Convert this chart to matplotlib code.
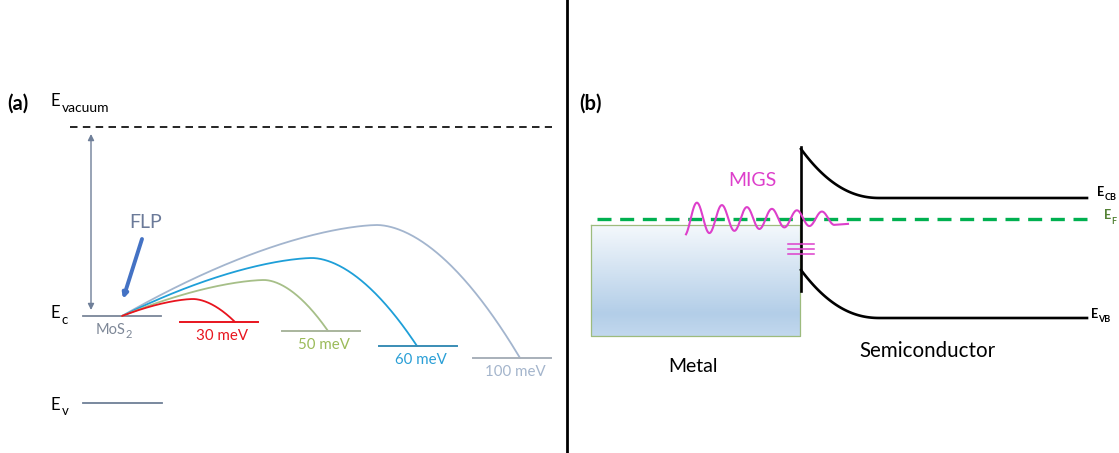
#!/usr/bin/env python3
"""Band diagram: (a) Fermi-level pinning barriers on MoS2, (b) MIGS at a metal/semiconductor contact."""

import matplotlib.pyplot as plt
import numpy as np
from matplotlib.colors import LinearSegmentedColormap

plt.rcParams['font.family'] = ['Lato', 'DejaVu Sans']

# Canvas is laid out in pixel units (x right, y down)
W, H = 1119, 453

# ---- panel (a): barrier heights for different metals ----
BARRIER_LABELS = ['30 meV', '50 meV', '60 meV', '100 meV']
BARRIER_COLORS = ['#E8141E', '#A6BF88', '#1E9FD8', '#A3B5CE']
LABEL_COLORS = ['#E8141E', '#9BBB59', '#2A9FD6', '#A4B5CC']
LEVEL_COLORS = ['#E8141E', '#A9B59D', '#3A8DB5', '#A8B0BA']
LEVEL_X = [180, 282, 379, 473]     # left end of each metal level
LEVEL_Y = [322, 331, 346, 358]     # level height
PEAK_X = [193, 264, 312, 377]      # top of each arc
PEAK_Y = [299, 280, 258, 225]
END_X = [235, 328, 417, 520]       # where each arc meets its level
LEVEL_LEN = 78

MOS2_LEVEL = (83, 161, 316)        # x0, x1, y
EV_LEVEL = (83, 162, 403)
VACUUM_Y = 127
ARC_START = (122, 316)

# ---- panel (b): metal / semiconductor ----
METAL_BOX = (591, 800, 225, 336)   # x0, x1, ytop, ybottom
INTERFACE_X = 801
CB_Y, VB_Y = 198, 318
BAND_TOP_CB, BAND_TOP_VB = 149, 270
BAND_FLAT_X = 880
BAND_END_X = 1087
EF_Y = 219
MIGS_X = (686, 834, 848)           # wave start, wave end, tail end
MIGS_CENTER = 218.5
MIGS_PERIOD = 25
MIGS_AMP = (17, 152)               # start amplitude, decay length
STATE_Y = [244, 249, 254]


def arc(x0, y0, xp, yp, xe, ye, n=120):
    """Schematic arc rising from (x0,y0) to a top at (xp,yp) and dropping to (xe,ye)."""
    xl = np.linspace(x0, xp, n)
    yl = yp + (y0 - yp) * ((xp - xl) / (xp - x0)) ** 1.6
    xr = np.linspace(xp, xe, n)
    yr = yp + (ye - yp) * ((xr - xp) / (xe - xp)) ** 1.8
    return np.r_[xl, xr], np.r_[yl, yr]


def band(y_top, y_flat):
    x = np.linspace(INTERFACE_X, BAND_FLAT_X, 80)
    y = y_flat - (y_flat - y_top) * ((BAND_FLAT_X - x) / (BAND_FLAT_X - INTERFACE_X)) ** 2.2
    return np.r_[x, BAND_END_X], np.r_[y, y_flat]


def create_figure():
    fig = plt.figure(figsize=(W / 100, H / 100), dpi=100, facecolor='white')
    ax = fig.add_axes([0, 0, 1, 1])
    ax.axis('off')

    # === PANEL (a) ===
    ax.text(7, 104, '(a)', fontsize=14.5, fontweight='bold', ha='left', va='center')
    ax.text(51, 101, 'E', fontsize=12, ha='left', va='center')
    ax.text(62, 108, 'vacuum', fontsize=10, ha='left', va='center')
    ax.plot([70, 552], [VACUUM_Y, VACUUM_Y], color='black', lw=1.2,
            dashes=(4.5, 3.2))

    # E_c / E_v
    ax.text(51, 313, 'E', fontsize=12, ha='left', va='center')
    ax.text(62, 320, 'c', fontsize=9.5, ha='left', va='center')
    ax.plot(MOS2_LEVEL[:2], [MOS2_LEVEL[2]] * 2, color='#7A8699', lw=1.3)
    ax.text(96, 330, 'MoS', fontsize=10.5, color='#7D8797', ha='left', va='center')
    ax.text(126, 334, '2', fontsize=8, color='#7D8797', ha='left', va='center')
    ax.text(51, 405, 'E', fontsize=12, ha='left', va='center')
    ax.text(62, 411, 'v', fontsize=9.5, ha='left', va='center')
    ax.plot(EV_LEVEL[:2], [EV_LEVEL[2]] * 2, color='#6E7F96', lw=1.3)

    # work-function arrow
    ax.annotate('', xy=(91, 310), xytext=(91, 134),
                arrowprops=dict(arrowstyle='<|-|>', color='#6F7F99', lw=1.0,
                                mutation_scale=9, shrinkA=0, shrinkB=0))

    # FLP
    ax.text(129, 223, 'FLP', fontsize=14, color='#6B7A99', ha='left', va='center')
    ax.annotate('', xy=(123, 299), xytext=(142, 239),
                arrowprops=dict(arrowstyle='-|>', color='#4472C4', lw=2.8,
                                mutation_scale=7, shrinkA=0, shrinkB=0))

    # barrier arcs, drawn largest first so the red one ends up on top
    for i in reversed(range(len(BARRIER_LABELS))):
        x, y = arc(ARC_START[0], ARC_START[1], PEAK_X[i], PEAK_Y[i], END_X[i], LEVEL_Y[i])
        ax.plot(x, y, color=BARRIER_COLORS[i], lw=1.3, solid_capstyle='round')
        ax.plot([LEVEL_X[i], LEVEL_X[i] + LEVEL_LEN], [LEVEL_Y[i]] * 2,
                color=LEVEL_COLORS[i], lw=1.4)
        ax.text(LEVEL_X[i] + LEVEL_LEN / 2 + 3, LEVEL_Y[i] + 14, BARRIER_LABELS[i],
                fontsize=10.8, color=LABEL_COLORS[i], ha='center', va='center')

    # divider
    ax.plot([567, 567], [0, H], color='black', lw=2.0)

    # === PANEL (b) ===
    ax.text(579, 104, '(b)', fontsize=14.5, fontweight='bold', ha='left', va='center')

    # metal block with vertical gradient
    x0, x1, yt, yb = METAL_BOX
    cmap = LinearSegmentedColormap.from_list(
        'metal', [(0, '#F4F8FC'), (0.8, '#B3CEE8'), (1, '#C2D8EE')])
    grad = np.linspace(0, 1, 200).reshape(-1, 1)
    ax.imshow(grad, cmap=cmap, extent=(x0, x1, yb, yt), origin='upper',
              aspect='auto', zorder=1)
    ax.plot([x0, x1, x1, x0, x0], [yt, yt, yb, yb, yt], color='#9DBB7D', lw=0.9, zorder=2)
    ax.text(693, 366, 'Metal', fontsize=14, ha='center', va='center')

    # Fermi level
    ax.plot([597, 1095], [EF_Y, EF_Y], color='#00B050', lw=2.4, dashes=(4.2, 2.6), zorder=3)
    ax.text(1104, 215, 'E', fontsize=9, fontweight='bold', color='#548235',
            ha='left', va='center')
    ax.text(1111, 221, 'F', fontsize=6.5, fontweight='bold', color='#548235',
            ha='left', va='center')

    # bands
    ax.plot([INTERFACE_X, INTERFACE_X], [147, 291], color='black', lw=1.9, zorder=4)
    for y_top, y_flat in [(BAND_TOP_CB, CB_Y), (BAND_TOP_VB, VB_Y)]:
        x, y = band(y_top, y_flat)
        ax.plot(x, y, color='black', lw=1.9, zorder=4)
    ax.text(1097, 192, 'E', fontsize=9, fontweight='bold', ha='left', va='center')
    ax.text(1104.5, 198, 'CB', fontsize=6.5, fontweight='bold', ha='left', va='center')
    ax.text(1091, 314, 'E', fontsize=9, fontweight='bold', ha='left', va='center')
    ax.text(1098.5, 320, 'VB', fontsize=6.5, fontweight='bold', ha='left', va='center')
    ax.text(927, 351, 'Semiconductor', fontsize=14.8, ha='center', va='center')

    # MIGS wave
    xs = np.linspace(MIGS_X[0], MIGS_X[1], 400)
    amp = MIGS_AMP[0] * np.exp(-(xs - MIGS_X[0]) / MIGS_AMP[1])
    ys = MIGS_CENTER - amp * np.cos(2 * np.pi * (xs - 697) / MIGS_PERIOD)
    ax.plot(np.r_[xs, MIGS_X[2]], np.r_[ys, ys[-1] - 1], color='#DD3FCB', lw=1.5, zorder=5)
    ax.text(752, 181, 'MIGS', fontsize=14, color='#DD3FCB', ha='center', va='center')
    for y in STATE_Y:
        ax.plot([788, 814], [y, y], color='#DD3FCB', lw=1.1, zorder=5)

    ax.set_xlim(0, W)
    ax.set_ylim(H, 0)
    return fig


def main():
    fig = create_figure()
    fig.savefig('out.png', dpi=100, facecolor='white')
    plt.close(fig)


if __name__ == '__main__':
    main()
